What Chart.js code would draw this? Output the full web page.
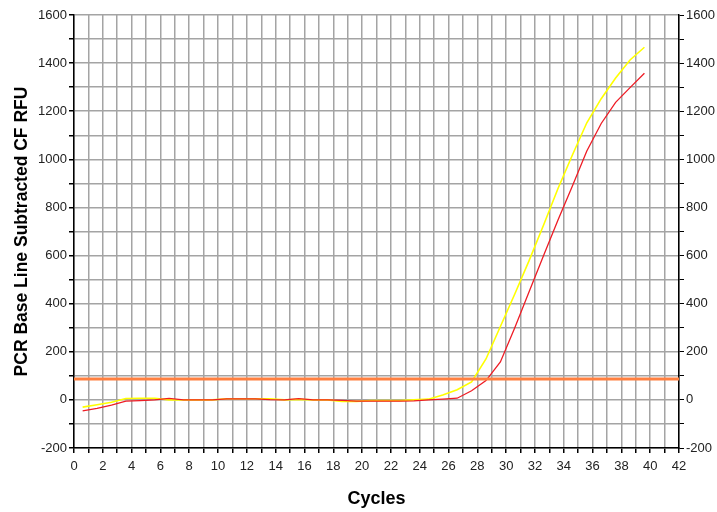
<!DOCTYPE html>
<html>
<head>
<meta charset="utf-8">
<script src="https://cdn.jsdelivr.net/npm/chart.js@4"></script>
<style>
  html, body { margin: 0; padding: 0; background: #fff; }
  #wrap { width: 717px; height: 512px; }
</style>
</head>
<body>
<div id="wrap"><canvas id="pcr"></canvas></div>
<script>
// cycle positions as plotted on the x axis
const cycles = [0.6, 1.6, 2.6, 3.6, 4.6, 5.6, 6.6, 7.6, 8.6, 9.6,
    10.6, 11.6, 12.6, 13.6, 14.6, 15.6, 16.6, 17.6, 18.6, 19.6,
    20.6, 21.6, 22.6, 23.6, 24.6, 25.6, 26.6, 27.6, 28.6, 29.6,
    30.6, 31.6, 32.6, 33.6, 34.6, 35.6, 36.6, 37.6, 38.6, 39.6];

const redRfu = [-46, -35, -22, -5, -3, 0, 6, 0, 0, 0,
    4, 4, 4, 1, 0, 5, 0, 0, -2, -5,
    -5, -5, -5, -4, 0, 3, 7, 38, 80, 158,
    300, 451, 600, 748, 889, 1035, 1149, 1237, 1298, 1358];

const yellowRfu = [-30, -20, -10, 6, 7, 7, 0, 0, 0, 0,
    5, 5, 5, 5, 0, 2, 0, 0, -6, -6,
    -3, -3, -3, 0, 3, 20, 42, 75, 170, 305,
    440, 580, 727, 879, 1018, 1152, 1252, 1338, 1413, 1466];

const threshold = 87;
const xRange = [0, 42];
const yRange = [-200, 1600];

function pts(ys) {
    return cycles.map((c, i) => ({ x: c, y: ys[i] }));
}

const tickFont = { family: "'Liberation Sans', Arial, sans-serif", size: 13 };
const gridGray = '#a4a4a4';

const ctx = document.getElementById('pcr');
new Chart(ctx, {
    type: 'line',
    data: {
        datasets: [
            {
                label: 'threshold',
                data: [{ x: xRange[0], y: threshold }, { x: xRange[1], y: threshold }],
                borderColor: '#ff8040',
                borderWidth: 3,
                pointRadius: 0
            },
            {
                label: 'red',
                data: pts(redRfu),
                borderColor: '#ee1c25',
                borderWidth: 1.3,
                pointRadius: 0,
                tension: 0
            },
            {
                label: 'yellow',
                data: pts(yellowRfu),
                borderColor: '#ffff00',
                borderWidth: 1.6,
                pointRadius: 0,
                tension: 0
            }
        ]
    },
    options: {
        responsive: true,
        maintainAspectRatio: false,
        animation: false,
        layout: { padding: { top: 15, left: 0, right: 0, bottom: 0 } },
        plugins: {
            legend: { display: false },
            tooltip: { enabled: false }
        },
        scales: {
            x: {
                type: 'linear',
                min: xRange[0],
                max: xRange[1],
                afterFit: (s) => { s.height = 64; },
                border: { color: '#000', width: 1.5 },
                grid: { color: gridGray, lineWidth: 1.5, tickColor: '#000', tickLength: 5 },
                ticks: {
                    stepSize: 1,
                    autoSkip: false,
                    maxRotation: 0,
                    padding: 6,
                    color: '#222',
                    font: tickFont,
                    callback: (v) => (v % 2 === 0 ? v : '')
                },
                title: {
                    display: true, text: 'Cycles', color: '#000',
                    font: { family: "'Liberation Sans', Arial, sans-serif", size: 18, weight: 'bold' },
                    padding: { top: 0, bottom: 2 }
                }
            },
            y: {
                type: 'linear',
                position: 'left',
                min: yRange[0],
                max: yRange[1],
                afterFit: (s) => { s.width = 74; },
                border: { color: '#000', width: 1.5 },
                grid: { color: gridGray, lineWidth: 1.5, tickColor: '#000', tickLength: 5 },
                ticks: {
                    stepSize: 100,
                    autoSkip: false,
                    padding: 2,
                    color: '#222',
                    font: tickFont,
                    callback: (v) => (v % 200 === 0 ? v : '')
                },
                title: {
                    display: true, text: 'PCR Base Line Subtracted CF RFU', color: '#000',
                    font: { family: "'Liberation Sans', Arial, sans-serif", size: 17.5, weight: 'bold' },
                    padding: { top: 12, bottom: 0 }
                }
            },
            y2: {
                type: 'linear',
                position: 'right',
                min: yRange[0],
                max: yRange[1],
                afterFit: (s) => { s.width = 38; },
                border: { color: '#000', width: 1.5 },
                grid: { drawOnChartArea: false, tickColor: '#000', tickLength: 5 },
                ticks: {
                    stepSize: 100,
                    autoSkip: false,
                    padding: 2,
                    color: '#222',
                    font: tickFont,
                    callback: (v) => (v % 200 === 0 ? v : '')
                }
            }
        }
    }
});
</script>
</body>
</html>
